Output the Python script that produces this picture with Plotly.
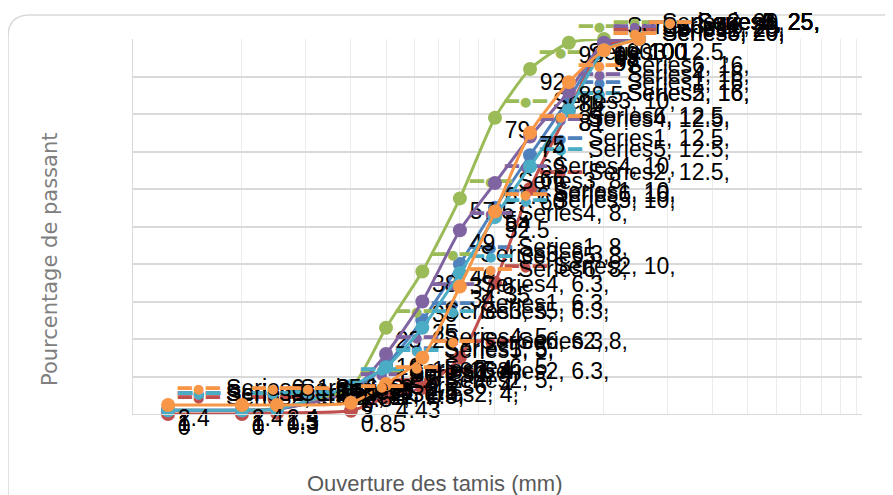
import plotly.graph_objects as go

# ---- data ----
sieves = [1.25, 2, 2.5, 4, 5, 6.3, 8, 10, 12.5, 16, 20, 25]
series_names = ["Series1", "Series2", "Series3", "Series4", "Series5", "Series6"]
series1 = [1.0, 1.0, 1.3, 6.0, 13.0, 25.0, 40.0, 55.0, 69.0, 84.0, 98.0, 100.0]
series2 = [0.0, 0.0, 0.3, 0.85, 4.43, 7.0, 15.0, 35.0, 60.0, 81.0, 98.0, 100.0]
series3 = [1.0, 1.0, 1.5, 7.0, 23.0, 38.0, 57.5, 79.0, 92.0, 99.0, 100.0, 100.0]
series4 = [1.0, 1.0, 1.3, 6.0, 16.0, 30.0, 49.0, 61.6, 74.0, 86.0, 99.0, 100.0]
series5 = [1.0, 1.0, 1.3, 7.5, 12.5, 23.0, 37.6, 52.5, 66.0, 81.0, 97.0, 100.0]
series6 = [2.4, 2.4, 2.4, 3.0, 8.0, 15.0, 34.0, 54.0, 75.0, 88.5, 97.0, 100.0]
all_series = [series1, series2, series3, series4, series5, series6]
colors = ["#4F81BD", "#C0504D", "#9BBB59", "#8064A2", "#4BACC6", "#F79646"]

x_title = "Ouverture des tamis (mm)"
y_title = "Pourcentage de passant"

# page has an 8px body margin: figure drawn from (8, 8)
OFF = 8
W, H = 885, 487
L, T = 133 - OFF, 39 - OFF
PW, PH = 729, 375
R, B = W - L - PW, H - T - PH

label_font = dict(family="Liberation Sans Narrow, Liberation Sans, sans-serif",
                  size=23, color="#000000")

fig = go.Figure()
for name, vals, col in zip(series_names, all_series, colors):
    labels = [
        f"<span style='color:{col}'>━●━</span> {name}, {x:g},<br>{y:g}"
        for x, y in zip(sieves, vals)
    ]
    fig.add_trace(go.Scatter(
        x=sieves, y=vals, name=name, mode="lines+markers+text",
        line=dict(color=col, width=3, shape="spline", smoothing=0.6),
        marker=dict(color=col, size=14, symbol="circle"),
        text=labels, textposition="middle right",
        textfont=label_font,
        cliponaxis=False,
    ))

# pixel (window) -> paper conversion for decorations
def px(xp):
    return (xp - OFF - L) / PW
def py(yp):
    return (H - B - (yp - OFF)) / PH

x0, y0, x1, y1, r = 8, 15, 910, 515, 22
path = (f"M {px(x0 + r)},{py(y0)} L {px(x1 - r)},{py(y0)} "
        f"Q {px(x1)},{py(y0)} {px(x1)},{py(y0 + r)} L {px(x1)},{py(y1 - r)} "
        f"Q {px(x1)},{py(y1)} {px(x1 - r)},{py(y1)} L {px(x0 + r)},{py(y1)} "
        f"Q {px(x0)},{py(y1)} {px(x0)},{py(y1 - r)} L {px(x0)},{py(y0 + r)} "
        f"Q {px(x0)},{py(y0)} {px(x0 + r)},{py(y0)} Z")

fig.update_layout(
    width=W, height=H,
    margin=dict(l=L, r=R, t=T, b=B, pad=0),
    paper_bgcolor="white", plot_bgcolor="white",
    showlegend=False,
    shapes=[dict(type="path", xref="paper", yref="paper", path=path,
                 line=dict(color="#D9D9D9", width=1.5), layer="below")],
    annotations=[
        dict(text=x_title, xref="paper", yref="paper", x=px(435), y=py(483),
             showarrow=False, xanchor="center", yanchor="middle",
             font=dict(family="Liberation Sans Narrow, Liberation Sans, sans-serif",
                       size=22, color="#595959")),
        dict(text=y_title, xref="paper", yref="paper", x=px(50), y=py(260),
             showarrow=False, xanchor="center", yanchor="middle", textangle=-90,
             font=dict(family="DejaVu Sans, sans-serif", size=21, color="#7F7F7F")),
    ],
    xaxis=dict(type="log", range=[0, 2.014], dtick="D1",
               showticklabels=False, ticks="",
               showgrid=True, gridcolor="#EBEBEB", gridwidth=1,
               zeroline=False, showline=True, linecolor="#D9D9D9"),
    yaxis=dict(range=[0, 100], dtick=10, showticklabels=False, ticks="",
               showgrid=True, gridcolor="#D9D9D9", gridwidth=1.5,
               zeroline=False, showline=True, linecolor="#D9D9D9"),
)

fig.write_html("out.html")
